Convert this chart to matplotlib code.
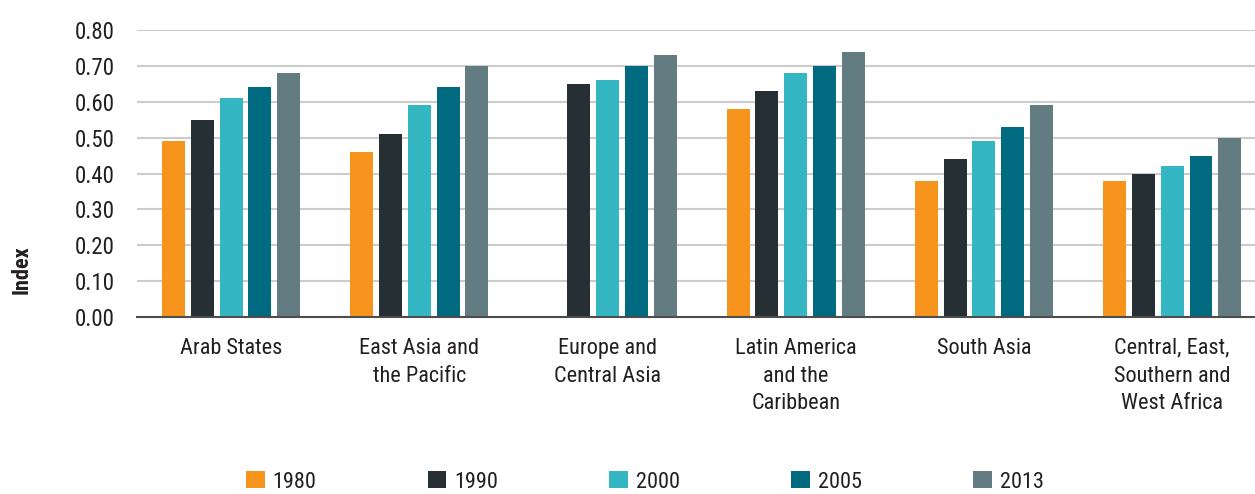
import matplotlib
matplotlib.use("Agg")
import matplotlib.pyplot as plt
import numpy as np

# ── Data ──
regions = [
    "Arab States",
    "East Asia and\nthe Pacific",
    "Europe and\nCentral Asia",
    "Latin America\nand the\nCaribbean",
    "South Asia",
    "Central, East,\nSouthern and\nWest Africa",
]
years = ["1980", "1990", "2000", "2005", "2013"]
v1980 = [0.49, 0.46, np.nan, 0.58, 0.38, 0.38]
v1990 = [0.55, 0.51, 0.65, 0.63, 0.44, 0.40]
v2000 = [0.61, 0.59, 0.66, 0.68, 0.49, 0.42]
v2005 = [0.64, 0.64, 0.70, 0.70, 0.53, 0.45]
v2013 = [0.68, 0.70, 0.73, 0.74, 0.59, 0.50]
series = [v1980, v1990, v2000, v2005, v2013]
colors = ["#F7941D", "#263034", "#35B6C3", "#006A80", "#637C82"]

plt.rcParams["font.family"] = ["Roboto Condensed", "DejaVu Sans"]
plt.rcParams["font.stretch"] = "condensed"

W, H = 1255, 494
fig = plt.figure(figsize=(W / 100, H / 100), dpi=100)
ax = fig.add_axes([137 / W, (H - 317) / H, (W - 137) / W, (317 - 30) / H])

x = np.arange(len(regions))
pitch = 0.153
width = 0.122
for i, (vals, col, yr) in enumerate(zip(series, colors, years)):
    ax.bar(x + (i - 2) * pitch, vals, width=width, color=col, label=yr, zorder=3)

ax.set_xlim(-0.5, 5.44)
ax.set_ylim(0, 0.8)
ax.set_yticks(np.arange(0, 0.81, 0.1))
ax.set_yticklabels([f"{t:.2f}" for t in np.arange(0, 0.81, 0.1)], fontsize=16.5, color="#231F20")
ax.set_xticks(x)
ax.set_xticklabels(regions, fontsize=16, color="#231F20", linespacing=1.42, va="top")
ax.tick_params(axis="both", length=0)
ax.tick_params(axis="x", pad=15)
ax.tick_params(axis="y", pad=16)
ax.yaxis.grid(True, color="#CCCCCC", linewidth=1.5, zorder=0)
ax.set_axisbelow(True)
for side in ["top", "right", "left"]:
    ax.spines[side].set_visible(False)
ax.spines["bottom"].set_color("#4D4D4D")
ax.spines["bottom"].set_linewidth(1.5)
ax.spines["bottom"].set_zorder(4)

fig.text(22 / W, 1 - 270 / H, "Index", rotation=90, fontsize=16, fontweight="bold",
         color="#231F20", ha="center", va="center")

fig.legend(loc="center", bbox_to_anchor=(645 / W, 1 - 482 / H), ncol=5, frameon=False,
           fontsize=16, handlelength=0.85, handleheight=0.8, handletextpad=0.36,
           columnspacing=5.0, labelcolor="#231F20")

plt.savefig("out.png", dpi=100)
